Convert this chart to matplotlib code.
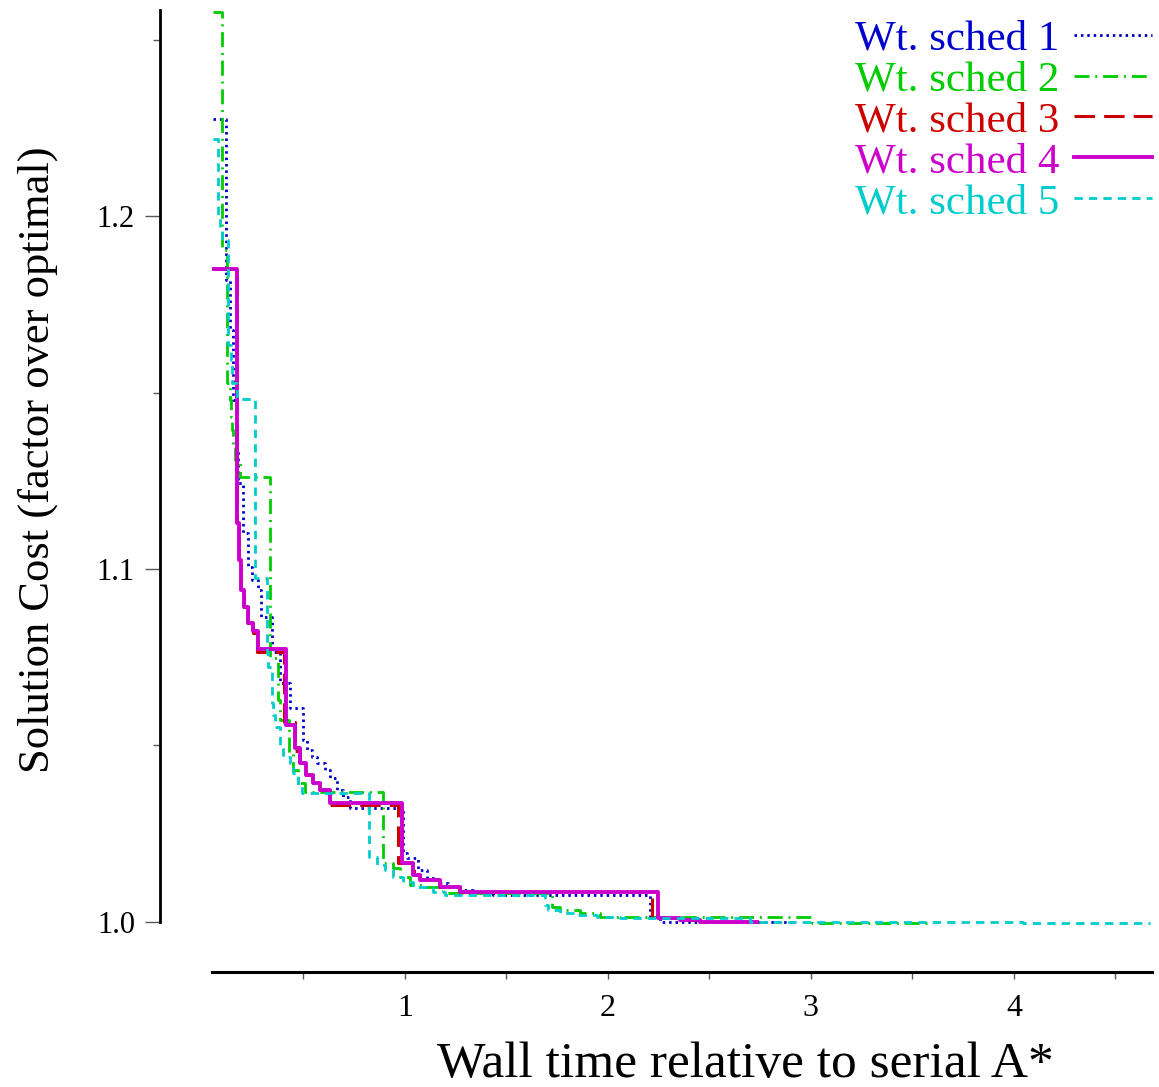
import matplotlib
matplotlib.use("Agg")
import matplotlib.pyplot as plt

plt.rcParams['font.family'] = ['Liberation Serif', 'DejaVu Serif']

# step curves (x = wall time, y = cost factor)
s1_x = [0.054, 0.118, 0.138, 0.153, 0.167, 0.177, 0.202, 0.227, 0.246, 0.276,
        0.291, 0.345, 0.384, 0.433, 0.498, 0.517, 0.542, 0.567, 0.606, 0.631,
        0.665, 0.695, 0.729, 0.990, 1.010, 1.064, 1.108, 1.158, 1.212, 1.271,
        1.335, 1.433, 2.207, 2.256, 2.906]
s1_y = [1.2275, 1.1819, 1.1677, 1.1479, 1.1337, 1.1244, 1.1102, 1.1006, 1.0969, 1.0941,
        1.0864, 1.0765, 1.0677, 1.0606, 1.0516, 1.0487, 1.0467, 1.0450, 1.0431, 1.0408,
        1.0374, 1.0354, 1.0323, 1.0195, 1.0181, 1.0147, 1.0125, 1.0110, 1.0099, 1.0091,
        1.0085, 1.0076, 1.0014, 1.0000, 1.0000]

s2_x = [0.054, 0.099, 0.123, 0.138, 0.143, 0.148, 0.153, 0.163, 0.187, 0.335,
        0.374, 0.384, 0.429, 0.448, 0.473, 0.507, 0.892, 0.941, 0.975, 1.025,
        1.089, 1.187, 1.724, 1.764, 1.862, 1.961, 3.005, 3.571]
s2_y = [1.2578, 1.1904, 1.1527, 1.1479, 1.1431, 1.1394, 1.1351, 1.1309, 1.1261, 1.0748,
        1.0629, 1.0572, 1.0479, 1.0431, 1.0394, 1.0368, 1.0167, 1.0153, 1.0127, 1.0105,
        1.0099, 1.0082, 1.0042, 1.0034, 1.0025, 1.0014, 0.9997, 0.9997]

s3_x = [0.059, 0.172, 0.182, 0.192, 0.207, 0.227, 0.251, 0.271, 0.404, 0.458,
        0.483, 0.512, 0.547, 0.581, 0.631, 0.966, 1.044, 1.074, 1.172, 1.271,
        2.217, 2.355, 2.453, 2.749]
s3_y = [1.1850, 1.1130, 1.1025, 1.0941, 1.0892, 1.0847, 1.0820, 1.0765, 1.0567, 1.0485,
        1.0450, 1.0416, 1.0394, 1.0374, 1.0332, 1.0167, 1.0133, 1.0119, 1.0099, 1.0085,
        1.0011, 1.0006, 1.0000, 1.0000]

s4_x = [0.059, 0.172, 0.182, 0.192, 0.207, 0.227, 0.251, 0.276, 0.414, 0.458,
        0.483, 0.512, 0.547, 0.581, 0.631, 0.985, 1.039, 1.074, 1.172, 1.271,
        2.246, 2.355, 2.453, 2.734]
s4_y = [1.1850, 1.1130, 1.1025, 1.0941, 1.0892, 1.0847, 1.0824, 1.0773, 1.0558, 1.0493,
        1.0450, 1.0416, 1.0394, 1.0374, 1.0337, 1.0167, 1.0133, 1.0119, 1.0099, 1.0085,
        1.0011, 1.0006, 1.0000, 1.0000]

s5_x = [0.054, 0.079, 0.089, 0.099, 0.128, 0.143, 0.148, 0.172, 0.261, 0.320,
        0.325, 0.345, 0.350, 0.360, 0.384, 0.399, 0.433, 0.448, 0.473, 0.493,
        0.823, 0.862, 0.901, 0.941, 0.990, 1.039, 1.138, 1.197, 1.690, 1.704,
        1.764, 1.828, 1.946, 2.059, 2.700, 4.044, 4.670]
s5_y = [1.2218, 1.2003, 1.1969, 1.1932, 1.1635, 1.1592, 1.1527, 1.1482, 1.0975, 1.0762,
        1.0722, 1.0620, 1.0586, 1.0552, 1.0496, 1.0467, 1.0450, 1.0422, 1.0388, 1.0365,
        1.0184, 1.0161, 1.0147, 1.0127, 1.0113, 1.0099, 1.0085, 1.0076, 1.0048, 1.0034,
        1.0025, 1.0020, 1.0014, 1.0011, 1.0000, 0.9997, 0.9997]

labels = ['Wt. sched 1', 'Wt. sched 2', 'Wt. sched 3', 'Wt. sched 4', 'Wt. sched 5']
colors = ['#0000cc', '#00cc00', '#cc0000', '#cc00cc', '#00cccc']

fig = plt.figure(figsize=(11.59, 10.87), dpi=100)
ax = fig.add_axes([0.1380, 0.1058, 0.8559, 0.8850])

series = [(s1_x, s1_y), (s2_x, s2_y), (s3_x, s3_y), (s4_x, s4_y), (s5_x, s5_y)]
styles = [dict(lw=2.0, ls=(0, (0.9, 1.4))),
          dict(lw=2.0, ls=(0, (5.4, 2.1, 0.7, 2.1))),
          dict(lw=2.2, ls=(0, (6.7, 3.0))),
          dict(lw=2.8, ls='-'),
          dict(lw=2.0, ls=(0, (3.0, 2.2)))]
for (xs, ys), lab, c, st in zip(series, labels, colors, styles):
    ax.step(xs, ys, where='post', color=c, label=lab, **st)

ax.set_xlim(-0.207, 4.68)
ax.set_ylim(0.9858, 1.2584)

for s in ['top', 'right']:
    ax.spines[s].set_visible(False)
ax.spines['left'].set_bounds(1.0, 1.2584)
ax.spines['left'].set_linewidth(2)
ax.spines['bottom'].set_bounds(0.049, 4.68)
ax.spines['bottom'].set_linewidth(2.2)

ax.set_xticks([1, 2, 3, 4])
ax.set_xticks([0.5, 1.5, 2.5, 3.5, 4.5], minor=True)
ax.set_yticks([1.0, 1.1, 1.2])
ax.set_yticks([1.05, 1.15, 1.25], minor=True)
ax.tick_params(axis='x', which='both', length=5, width=1, color='0.35', pad=11, labelsize=23)
ax.tick_params(axis='y', which='major', length=11, width=1, color='0.35', pad=7, labelsize=22)
ax.tick_params(axis='y', which='minor', length=5, width=1, color='0.35')

fig.text(745 / 1159, 1 - 1077 / 1087, 'Wall time relative to serial A*',
         ha='center', va='baseline', fontsize=37)
fig.text(38 / 1159, 1 - 460 / 1087, 'Solution Cost (factor over optimal)',
         ha='center', va='center', rotation=90, fontsize=32)

ax.legend(loc='upper right', bbox_to_anchor=(1.0, 0.99), frameon=False,
          markerfirst=False, labelcolor='linecolor', fontsize=31,
          handlelength=1.8, handletextpad=0.35, labelspacing=0.04,
          borderpad=0, borderaxespad=0)

fig.savefig('out.png', dpi=100)
